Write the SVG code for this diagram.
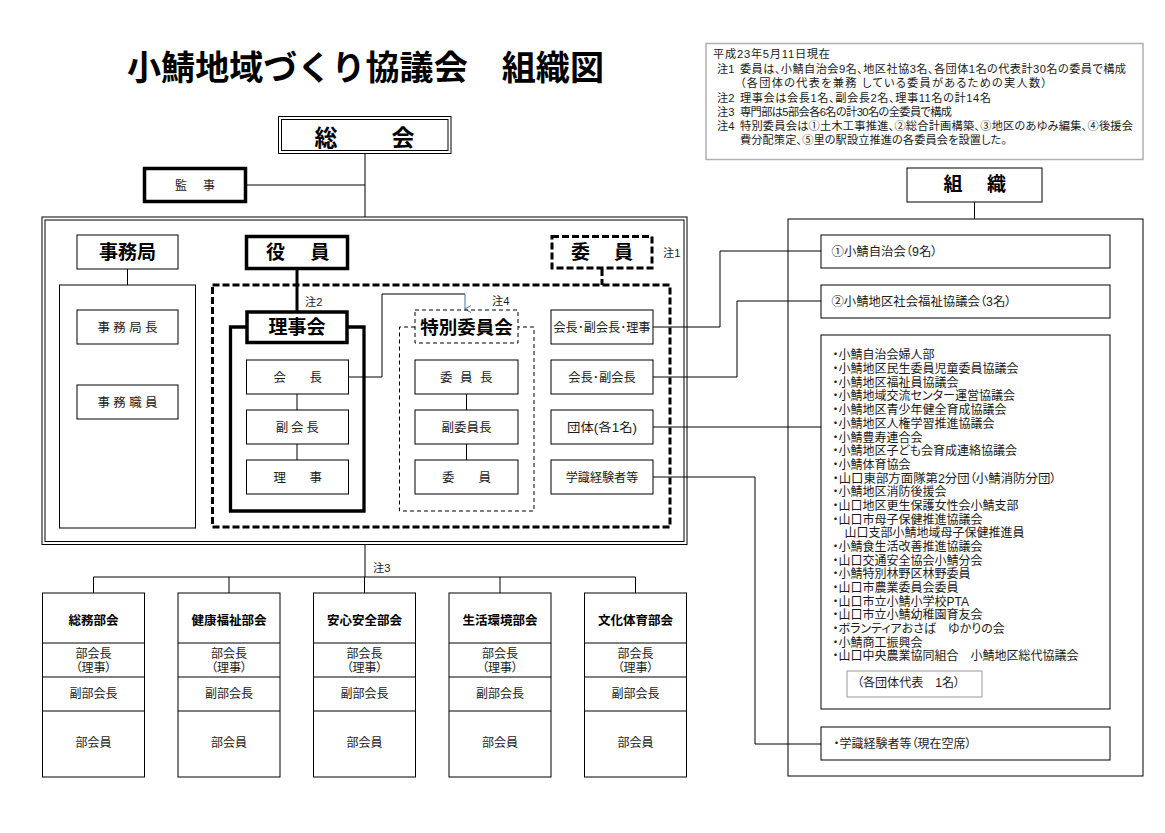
<svg xmlns="http://www.w3.org/2000/svg" width="1165" height="833" viewBox="0 0 1165 833">
<defs>
<style>
text{font-family:"Liberation Sans","Noto Sans CJK JP","Noto Sans CJK SC",sans-serif;fill:#1a1a1a}
.b{font-weight:bold;fill:#000}
.t{font-size:12.5px}
.s{font-size:12px;font-feature-settings:"palt"}
.n{font-size:11.2px;font-feature-settings:"palt"}
.h{font-size:19px}
.box{fill:#fff;stroke:#000;stroke-width:1}
.thick{fill:#fff;stroke:#000;stroke-width:3.5}
.dash{fill:none;stroke:#000;stroke-width:3;stroke-dasharray:7 3}
.dthin{fill:none;stroke:#000;stroke-width:1;stroke-dasharray:4 3}
.ln{fill:none;stroke:#000;stroke-width:1}
.m{text-anchor:middle}
</style>
<marker id="arr" markerWidth="8" markerHeight="8" refX="4" refY="7" orient="auto-start-reverse" markerUnits="userSpaceOnUse" viewBox="0 0 8 8">
<path d="M0.5,1 L4,7 L7.5,1" fill="none" stroke="#4a6fa5" stroke-width="1"/>
</marker>
</defs>
<rect width="1165" height="833" fill="#fff"/>

<g id="title">
<text x="127" y="80" class="b" font-size="34" textLength="477" lengthAdjust="spacingAndGlyphs">小鯖地域づくり協議会　組織図</text>
</g>

<g id="notes">
<rect x="706" y="43.5" width="437" height="116" fill="#fff" stroke="#b0b0b0" stroke-width="1.5"/>
<text class="n" x="713" y="57.6" textLength="117">平成23年5月11日現在</text>
<text class="n" y="73.4"><tspan x="717">注1</tspan><tspan x="740" textLength="386">委員は、小鯖自治会9名、地区社協3名、各団体1名の代表計30名の委員で構成</tspan></text>
<text class="n" x="740" y="86.8" textLength="307">（各団体の代表を兼務 している委員があるための実人数）</text>
<text class="n" y="102.1"><tspan x="717">注2</tspan><tspan x="740" textLength="251">理事会は会長1名、副会長2名、理事11名の計14名</tspan></text>
<text class="n" y="116.1"><tspan x="717">注3</tspan><tspan x="740" textLength="212">専門部は5部会各6名の計30名の全委員で構成</tspan></text>
<text class="n" y="130.1"><tspan x="717">注4</tspan><tspan x="740" textLength="393">特別委員会は①土木工事推進、②総合計画構築、③地区のあゆみ編集、④後援会</tspan></text>
<text class="n" x="740" y="144.1" textLength="267">費分配策定、⑤里の駅設立推進の各委員会を設置した。</text>
</g>

<g id="connectors">
<path class="ln" d="M365,153.5 V217"/>
<path class="ln" d="M247,185 H365"/>
<path class="ln" d="M127.5,269 V285 M127.5,344 V385"/>
<path fill="none" stroke="#000" stroke-width="3" d="M297,269 V311"/>
<path class="ln" d="M297,394 V410 M297,444 V460 M466.5,394 V410 M466.5,444 V460"/>
<path class="ln" d="M348,377 H382 V294 H465"/>
<path fill="none" stroke="#4a6fa5" stroke-width="1" d="M465,294 V309" marker-end="url(#arr)"/>
<path fill="none" stroke="#000" stroke-width="3" stroke-dasharray="7 3" d="M602,269 V285"/>
<path class="ln" d="M653,327 H720 V251 H821"/>
<path class="ln" d="M653,377 H737 V301 H821"/>
<path class="ln" d="M653,427 H821"/>
<path class="ln" d="M653,477 H755 V744 H821"/>
<path class="ln" d="M974.5,202 V219"/>
<path class="ln" d="M365,544.5 V577 M93.5,577 H635.5 M93.5,577 V593 M229,577 V593 M364.5,577 V593 M500,577 V593 M635.5,577 V593"/>
<text class="n" x="373" y="572">注3</text>
</g>

<g id="soukai">
<rect x="278.5" y="116.5" width="172.5" height="37" fill="#fff" stroke="#000" stroke-width="1"/>
<rect x="281.5" y="119.5" width="166.5" height="31" fill="none" stroke="#000" stroke-width="1"/>
<text x="314.5" y="145.5" class="b" font-size="23" textLength="100" lengthAdjust="spacing">総　　会</text>
</g>

<g id="kanji">
<rect class="thick" x="144.5" y="168.5" width="101" height="33"/>
<text class="s" x="175" y="190" textLength="40" lengthAdjust="spacing">監　事</text>
</g>

<g id="main-frame">
<rect x="42" y="217" width="645" height="327.5" fill="none" stroke="#000" stroke-width="1"/>
<rect x="45" y="220" width="639" height="321.5" fill="none" stroke="#000" stroke-width="1"/>
</g>

<g id="jimukyoku">
<rect class="box" x="77" y="235" width="101" height="34"/>
<text class="b h m" x="127.5" y="259">事務局</text>
</g>
<g id="jimukyoku-frame">
<rect class="box" fill="none" x="59.5" y="285" width="136" height="243"/>
</g>
<g id="jimukyokucho">
<rect class="box" x="77" y="310" width="101" height="34"/>
<text class="t m" x="127.5" y="331.8" textLength="60" lengthAdjust="spacing">事 務 局 長</text>
</g>
<g id="jimushokuin">
<rect class="box" x="77" y="385" width="101" height="34"/>
<text class="t m" x="127.5" y="406.8" textLength="60" lengthAdjust="spacing">事 務 職 員</text>
</g>

<g id="yakuin">
<rect class="thick" x="246.5" y="236.5" width="101" height="32"/>
<text class="b h" x="266" y="259" textLength="63.5" lengthAdjust="spacing">役　員</text>
</g>

<g id="iin-group">
<rect class="dash" x="212.5" y="285" width="457.5" height="242"/>
<text class="n" x="305" y="305.5">注2</text>
<text class="n" x="492" y="305">注4</text>
</g>

<g id="rijikai">
<path fill="none" stroke="#000" stroke-width="3.3" d="M246,327 H230.5 V511 H364 V327 H348"/>
<rect class="thick" x="247" y="312" width="100" height="30.5" stroke-width="4"/>
<text class="b h m" x="297" y="334">理事会</text>
</g>
<g id="kaicho">
<rect class="box" x="246.5" y="360" width="102" height="34"/>
<text class="t" x="273.5" y="381.7" textLength="48.5" lengthAdjust="spacing">会　　長</text>
</g>
<g id="fukukaicho">
<rect class="box" x="246.5" y="410" width="102" height="34"/>
<text class="t" x="275.7" y="431.7" textLength="43" lengthAdjust="spacing">副 会 長</text>
</g>
<g id="riji">
<rect class="box" x="246.5" y="460" width="102" height="34"/>
<text class="t" x="273.5" y="481.7" textLength="48.5" lengthAdjust="spacing">理　　事</text>
</g>

<g id="tokubetsu">
<path class="dthin" d="M415,327 H399.5 V511 H534 V327 H518"/>
<rect class="dthin" fill="#fff" x="415" y="310" width="103" height="33"/>
<text class="b m" font-size="18.5" x="466.5" y="334">特別委員会</text>
</g>
<g id="iincho">
<rect class="box" x="415" y="360" width="103" height="34"/>
<text class="t" x="440" y="381.7" textLength="52.5" lengthAdjust="spacing">委 員 長</text>
</g>
<g id="fukuiincho">
<rect class="box" x="415" y="410" width="103" height="34"/>
<text class="t m" x="466.5" y="431.7">副委員長</text>
</g>
<g id="iin-small">
<rect class="box" x="415" y="460" width="103" height="34"/>
<text class="t" x="442" y="481.7" textLength="49" lengthAdjust="spacing">委　　員</text>
</g>

<g id="iin">
<rect class="dash" fill="#fff" x="552" y="236.5" width="100" height="31.5"/>
<text class="b h" x="571" y="259" textLength="62" lengthAdjust="spacing">委　員</text>
<text class="n" x="663" y="256.5">注1</text>
</g>
<g id="r-kaicho-riji">
<rect class="box" x="551" y="310" width="102" height="34"/>
<text class="t m" x="602" y="331.7" textLength="97" lengthAdjust="spacingAndGlyphs">会長･副会長･理事</text>
</g>
<g id="r-kaicho">
<rect class="box" x="551" y="360" width="102" height="34"/>
<text class="t m" x="602" y="381.7" textLength="67.5" lengthAdjust="spacingAndGlyphs">会長･副会長</text>
</g>
<g id="r-dantai">
<rect class="box" x="551" y="410" width="102" height="34"/>
<text class="t m" x="602" y="431.7" textLength="70" lengthAdjust="spacingAndGlyphs">団体(各1名)</text>
</g>
<g id="r-gakushiki">
<rect class="box" x="551" y="460" width="102" height="34"/>
<text class="t m" x="602" y="481.7" textLength="72.5" lengthAdjust="spacingAndGlyphs">学識経験者等</text>
</g>

<g id="soshiki">
<rect class="box" x="907" y="168" width="135" height="34" stroke-width="1.3"/>
<text class="b h" x="943.5" y="190.5" textLength="62.5" lengthAdjust="spacing">組　　織</text>
</g>
<g id="soshiki-frame">
<rect class="ln" x="788" y="219" width="355" height="557"/>
</g>
<g id="jichikai">
<rect class="box" x="821" y="235" width="289" height="33"/>
<text class="s" x="831.5" y="255.5" textLength="106" lengthAdjust="spacingAndGlyphs">①小鯖自治会（9名）</text>
</g>
<g id="shakyo">
<rect class="box" x="821" y="285" width="289" height="33"/>
<text class="s" x="831.5" y="305.5" textLength="180" lengthAdjust="spacingAndGlyphs">②小鯖地区社会福祉協議会（3名）</text>
</g>
<g id="dantai-list">
<rect class="box" x="821" y="335" width="289" height="374"/>
<text class="s" x="832.5" y="359.4">・小鯖自治会婦人部</text>
<text class="s" x="832.5" y="373.1">・小鯖地区民生委員児童委員協議会</text>
<text class="s" x="832.5" y="386.8">・小鯖地区福祉員協議会</text>
<text class="s" x="832.5" y="400.4">・小鯖地域交流センター運営協議会</text>
<text class="s" x="832.5" y="414.1">・小鯖地区青少年健全育成協議会</text>
<text class="s" x="832.5" y="427.8">・小鯖地区人権学習推進協議会</text>
<text class="s" x="832.5" y="441.5">・小鯖豊寿連合会</text>
<text class="s" x="832.5" y="455.2">・小鯖地区子ども会育成連絡協議会</text>
<text class="s" x="832.5" y="468.8">・小鯖体育協会</text>
<text class="s" x="832.5" y="482.5" textLength="224" lengthAdjust="spacingAndGlyphs">・山口東部方面隊第2分団（小鯖消防分団）</text>
<text class="s" x="832.5" y="496.2">・小鯖地区消防後援会</text>
<text class="s" x="832.5" y="509.9">・山口地区更生保護女性会小鯖支部</text>
<text class="s" x="832.5" y="523.6">・山口市母子保健推進協議会</text>
<text class="s" x="832.5" y="537.2">　山口支部小鯖地域母子保健推進員</text>
<text class="s" x="832.5" y="550.9">・小鯖食生活改善推進協議会</text>
<text class="s" x="832.5" y="564.6">・山口交通安全協会小鯖分会</text>
<text class="s" x="832.5" y="578.3">・小鯖特別林野区林野委員</text>
<text class="s" x="832.5" y="592.0">・山口市農業委員会委員</text>
<text class="s" x="832.5" y="605.6">・山口市立小鯖小学校PTA</text>
<text class="s" x="832.5" y="619.3">・山口市立小鯖幼稚園育友会</text>
<text class="s" x="832.5" y="633.0">・ボランティアおさば　ゆかりの会</text>
<text class="s" x="832.5" y="646.7">・小鯖商工振興会</text>
<text class="s" x="832.5" y="660.4">・山口中央農業協同組合　小鯖地区総代協議会</text>
<rect x="847" y="671" width="135" height="26" fill="#fff" stroke="#999" stroke-width="1"/>
<text class="s" x="857" y="687.4" font-size="11.5" textLength="103" lengthAdjust="spacingAndGlyphs">（各団体代表　1名）</text>
</g>
<g id="gakushiki">
<rect class="box" x="821" y="727" width="289" height="33"/>
<text class="s" x="833.5" y="748.4" textLength="138" lengthAdjust="spacingAndGlyphs">・学識経験者等（現在空席）</text>
</g>

<g id="dept-soumu">
<rect class="box" x="42.5" y="593" width="102" height="184"/>
<path class="ln" d="M42.5,643 H144.5 M42.5,677 H144.5 M42.5,711 H144.5"/>
<text class="b m" font-size="12.5" x="93.5" y="624.6">総務部会</text>
<text class="s m" x="93.5" y="658.4">部会長</text>
<text class="s m" x="93.5" y="672">（理事）</text>
<text class="s m" x="93.5" y="698.4">副部会長</text>
<text class="s m" x="93.5" y="747.4">部会員</text>
</g>
<g id="dept-kenko">
<rect class="box" x="178" y="593" width="102" height="184"/>
<path class="ln" d="M178,643 H280 M178,677 H280 M178,711 H280"/>
<text class="b m" font-size="12.5" x="229" y="624.6">健康福祉部会</text>
<text class="s m" x="229" y="658.4">部会長</text>
<text class="s m" x="229" y="672">（理事）</text>
<text class="s m" x="229" y="698.4">副部会長</text>
<text class="s m" x="229" y="747.4">部会員</text>
</g>
<g id="dept-anshin">
<rect class="box" x="313.5" y="593" width="102" height="184"/>
<path class="ln" d="M313.5,643 H415.5 M313.5,677 H415.5 M313.5,711 H415.5"/>
<text class="b m" font-size="12.5" x="364.5" y="624.6">安心安全部会</text>
<text class="s m" x="364.5" y="658.4">部会長</text>
<text class="s m" x="364.5" y="672">（理事）</text>
<text class="s m" x="364.5" y="698.4">副部会長</text>
<text class="s m" x="364.5" y="747.4">部会員</text>
</g>
<g id="dept-seikatsu">
<rect class="box" x="449" y="593" width="102" height="184"/>
<path class="ln" d="M449,643 H551 M449,677 H551 M449,711 H551"/>
<text class="b m" font-size="12.5" x="500" y="624.6">生活環境部会</text>
<text class="s m" x="500" y="658.4">部会長</text>
<text class="s m" x="500" y="672">（理事）</text>
<text class="s m" x="500" y="698.4">副部会長</text>
<text class="s m" x="500" y="747.4">部会員</text>
</g>
<g id="dept-bunka">
<rect class="box" x="584.5" y="593" width="102" height="184"/>
<path class="ln" d="M584.5,643 H686.5 M584.5,677 H686.5 M584.5,711 H686.5"/>
<text class="b m" font-size="12.5" x="635.5" y="624.6">文化体育部会</text>
<text class="s m" x="635.5" y="658.4">部会長</text>
<text class="s m" x="635.5" y="672">（理事）</text>
<text class="s m" x="635.5" y="698.4">副部会長</text>
<text class="s m" x="635.5" y="747.4">部会員</text>
</g>
</svg>
